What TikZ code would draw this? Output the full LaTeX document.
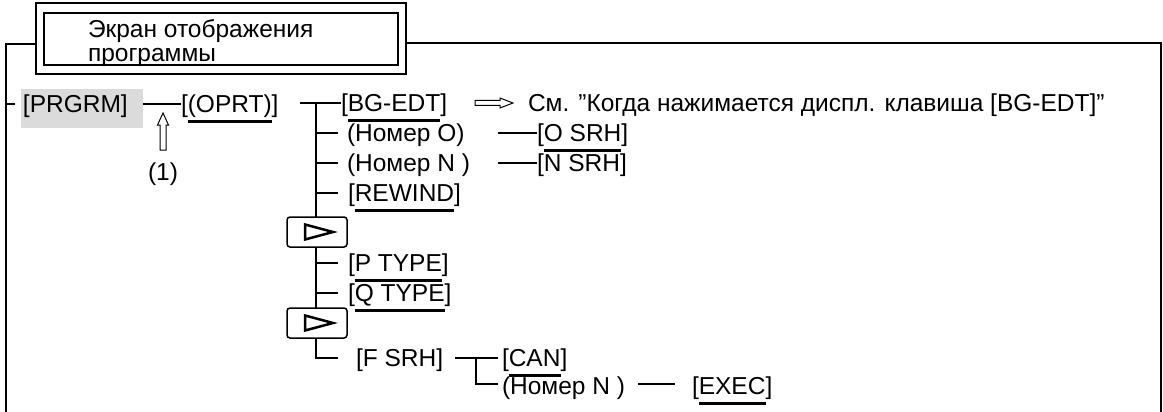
\documentclass[tikz,border=0pt]{standalone}
\usepackage{fontspec}
\setmainfont{Liberation Sans}
\newsavebox\ulbox
\newcommand\uln[1]{\sbox\ulbox{#1}\rlap{\raisebox{-10.5pt}{\rule{\wd\ulbox}{3pt}}}\usebox\ulbox}
\newcommand\fs{\fontsize{24.5}{26}\selectfont}
\begin{document}
\begin{tikzpicture}[x=1pt,y=-1pt,
  every node/.style={inner sep=0pt, outer sep=0pt},
  lbl/.style={anchor=west, text height=17.5pt, text depth=0pt, font=\fs},
  ln/.style={line width=1.5pt},
  keybox/.style={draw, fill=white, line width=1.5pt, rounded corners=3pt, minimum width=60pt, minimum height=30pt},
  tri/.style={line width=2.5pt, line join=miter}]
\useasboundingbox (0,0) rectangle (1163,412);

% frame
\draw[ln] (6,412) -- (6,44) -- (36,44);
\draw[ln] (406,43) -- (1161,43) -- (1161,412);
% title box
\node[draw, line width=2pt, minimum width=370pt, minimum height=71pt] (titleout) at (221,38.5) {};
\node[draw, line width=1.5pt, minimum width=354pt, minimum height=52pt] (titlein) at (221,39) {};
\node[lbl] (t1) at (88,29) {Экран отображения};
\node[lbl] (t2) at (88,53) {программы};

% PRGRM
\node[fill=black!14, minimum width=122pt, minimum height=39pt] (prgbg) at (82,108.5) {};
\node[lbl] (prg) at (23,104) {[PRGRM]};
\coordinate (lt) at (15,104);
\draw[ln] (lt -| titleout.west) ++(-30,0) -- (lt);

\node[lbl] (oprt) at (181,104) {[\uln{(OPRT)}]};
\draw[ln] (prgbg.east |- oprt.west) -- (oprt.west);

% hollow up arrow (1)
\coordinate (a1) at (163,113);
\draw[line width=1pt] (a1) -- ++(5.5,12) -- ++(-2.5,0) -- ++(0,25) -- ++(-6,0) -- ++(0,-25) -- ++(-2.5,0) -- cycle;
\node[font=\fs, text height=17.5pt, text depth=0pt] (one) at (163,172) {(1)};

% trunk
\coordinate (tr0) at (300,103);
\coordinate (tr) at (316,103);
\node[lbl] (bg) at (341,103) {[\uln{BG-EDT}]};
\draw[ln] (tr0) -- (bg.west);
\node[lbl] (no) at (347,133) {(Номер O)};
\node[lbl] (nn) at (347,163) {(Номер N )};
\node[lbl] (rew) at (348,193) {[\uln{REWIND}]};
\node[lbl] (pt) at (348,263) {[\uln{P TYPE}]};
\node[lbl] (qt) at (348,293) {[\uln{Q TYPE}]};
\node[lbl] (fs) at (356,358) {[F SRH]};
\draw[ln] (tr) -- (tr |- fs.west) -- ++(22,0);
\foreach \n in {no,nn,rew,pt,qt} {
  \draw[ln] (tr |- \n.west) -- ++(22,0);
}
\node[keybox] (k1) at (317,232) {};
\node[keybox] (k2) at (317,323) {};
\draw[tri] ([xshift=-12pt,yshift=-7.5pt]k1.center) -- ([xshift=16pt]k1.center) -- ([xshift=-12pt,yshift=7.5pt]k1.center) -- cycle;
\draw[tri] ([xshift=-12pt,yshift=-7.5pt]k2.center) -- ([xshift=16pt]k2.center) -- ([xshift=-12pt,yshift=7.5pt]k2.center) -- cycle;

% see text with hollow arrow
\node[lbl] (see) at (528,103) {См. ”Когда нажимается диспл. клавиша [BG-EDT]”};
\coordinate (ha) at (475,103);
\draw[line width=1pt] (ha) ++(0,-2.5) -- ++(25,0) -- ++(0,-2.5) -- ++(13,5) -- ++(-13,5) -- ++(0,-2.5) -- ++(-25,0) -- cycle;

% SRH
\node[lbl] (osrh) at (537,133) {[\uln{O SRH}]};
\node[lbl] (nsrh) at (537,163) {[N SRH]};
\draw[ln] (osrh.west) ++(-39,0) -- (osrh.west);
\draw[ln] (nsrh.west) ++(-39,0) -- (nsrh.west);

% F SRH branch
\node[lbl] (can) at (502,358) {[\uln{CAN}]};
\node[lbl] (n2) at (502,386) {(Номер N )};
\node[lbl] (exec) at (692,386) {[\uln{EXEC}]};
\coordinate (fj) at (476,358);
\draw[ln] (455,358) -- ([xshift=-4pt]can.west);
\draw[ln] (fj) -- (fj |- 0,384) -- ([xshift=-4pt]n2.west |- 0,384);
\draw[ln] (638,384) -- (675,384);
\end{tikzpicture}
\end{document}
